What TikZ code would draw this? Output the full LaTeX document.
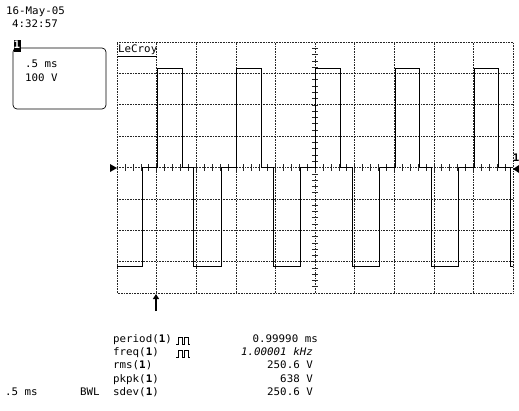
\documentclass[tikz,border=0pt]{standalone}
\usepackage{fontspec}
\usetikzlibrary{arrows.meta,positioning}
\newfontfamily\scopefont[FakeStretch=1.04]{DejaVu Sans Mono}

\tikzset{
  gridline/.style={black!85, densely dotted, line width=0.6pt},
  tickmark/.style={black!85, line width=0.5pt},
  wave/.style={black, line width=0.75pt, line join=miter},
  wavetop/.style={black, line width=1.5pt},
  scopetext/.style={font=\scopefont\fontsize{10.4}{12}\selectfont, inner sep=0pt,
    text height=7.5pt, text depth=2pt},
  lbl/.style={scopetext, anchor=west},
  val/.style={scopetext, anchor=east},
  pulses/.pic={\draw[line width=0.7pt] (0,0) -- (2,0) -- (2,-7) -- (6,-7) -- (6,0)
    -- (8,0) -- (8,-7) -- (12,-7) -- (12,0) -- (14,0);}
}

\begin{document}
\begin{tikzpicture}[x=1pt, y=-1pt]
\useasboundingbox (0,0) rectangle (519,410);

% date and time
\node[lbl] (date) at (6,12) {16-May-05};
\node[lbl] (time) at (12,25) {4:32:57};

% channel box
\draw[line width=0.7pt, rounded corners=4pt] (13,48) rectangle (106,109);
\node[scopetext, fill=black, text=white, minimum width=7pt, minimum height=12pt,
  font=\scopefont\bfseries\fontsize{10.4}{12}\selectfont] (chbadge) at (17,46) {1};
\node[lbl] (tdiv) at (25,65) {.5 ms};
\node[lbl] (vdiv) at (25,79) {100 V};

% screen grid, one unit per division
\begin{scope}[shift={(117,293)}, x=39.6pt, y=31.375pt]
  \foreach \i in {1,...,9} \draw[gridline] (\i,0) -- (\i,8);
  \foreach \j in {1,...,7} \draw[gridline] (0,\j) -- (10,\j);
  \draw[gridline] (0,0) rectangle (10,8);
  % centre ticks
  \foreach \t in {0.2,0.4,...,9.9} \draw[tickmark] (\t,3.9) -- (\t,4.1);
  \foreach \t in {0.2,0.4,...,7.9} \draw[tickmark] (4.92,\t) -- (5.08,\t);
  % waveform
  \begin{scope}
    \clip (0,0) rectangle (10,8);
    \def\hi{7.15}
    \def\lo{0.85}
    \draw[wave] (0,\lo) -- (0.63,\lo) -- (0.63,4);
    \draw[wavetop] (0,\lo) -- (0.63,\lo);
    \foreach \k in {0,...,4} {
      \draw[wave] (2*\k+0.63,4) -- (2*\k+1.02,4) -- (2*\k+1.02,\hi) -- (2*\k+1.64,\hi)
        -- (2*\k+1.64,4) -- (2*\k+1.94,4) -- (2*\k+1.94,\lo) -- (2*\k+2.63,\lo)
        -- (2*\k+2.63,4);
      \draw[wavetop] (2*\k+0.63,4) -- (2*\k+1.02,4);
      \draw[wavetop] (2*\k+1.02,\hi) -- (2*\k+1.64,\hi);
      \draw[wavetop] (2*\k+1.64,4) -- (2*\k+1.94,4);
      \draw[wavetop] (2*\k+1.94,\lo) -- (2*\k+2.63,\lo);
    }
  \end{scope}
\end{scope}

% brand
\node[lbl] (brand) at (118,50) {LeCroy};
\draw[line width=0.7pt] (brand.south west) ++(0,1) -- ([yshift=-1pt]brand.south east);

% markers
\fill (117,168) -- (110,164) -- (110,172) -- cycle;
\fill (513,169) -- (519,165) -- (519,173) -- cycle;
\node[scopetext, font=\scopefont\bfseries\fontsize{10.4}{12}\selectfont] (chmark) at (516,159) {1};
\draw[line width=2.2pt, -{Triangle[width=6pt,length=5pt]}] (156,311) -- (156,294);

% measurements
\node[lbl] (mper) at (113,340) {period(\textbf{1})};
\node[lbl] (mfrq) at (113,353) {freq(\textbf{1})};
\node[lbl] (mrms) at (113,366) {rms(\textbf{1})};
\node[lbl] (mpkp) at (113,380) {pkpk(\textbf{1})};
\node[lbl] (msdv) at (113,393) {sdev(\textbf{1})};
\pic (pper) at (176,344) {pulses};
\pic (pfrq) at (176,357) {pulses};
\node[val] (vper) at (318,340) {0.99990 ms};
\node[val] (vfrq) at (313,353) {\itshape 1.00001 kHz};
\node[val] (vrms) at (313,366) {250.6 V};
\node[val] (vpkp) at (313,380) {638 V};
\node[val] (vsdv) at (313,393) {250.6 V};

% bottom status
\node[lbl] (tbase) at (5,393) {.5 ms};
\node[lbl] (bwl) at (80,393) {BWL};
\end{tikzpicture}
\end{document}
